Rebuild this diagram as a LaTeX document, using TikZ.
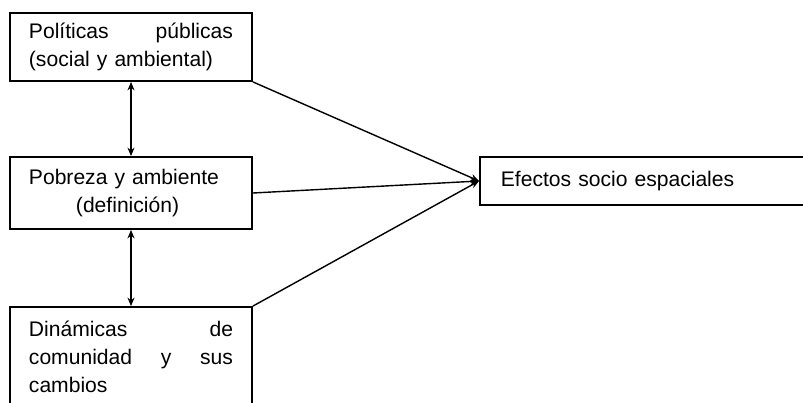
\documentclass[tikz,border=0pt]{standalone}
\usepackage{fontspec}
\setmainfont{Liberation Sans}
\usetikzlibrary{arrows.meta}
\begin{document}
\begin{tikzpicture}[x=0.025cm,y=-0.025cm,
  caja/.style={draw,line width=1.3pt,inner sep=0pt,align=left,font=\fontsize{15}{20}\selectfont},
  flecha/.style={line width=1pt,-{Stealth[length=6pt,width=5pt]}},
  doble/.style={line width=1pt,{Stealth[length=6pt,width=5pt]}-{Stealth[length=6pt,width=5pt]}}]
\useasboundingbox (0,0) rectangle (803,402);
\clip (0,0) rectangle (803,402);
% cajas de la izquierda
\node[caja,minimum width=6.05cm,minimum height=1.7cm,text width=5.1cm] (pp) at (131,47) {Políticas\hfill públicas\\(social y ambiental)};
\node[caja,minimum width=6.05cm,minimum height=1.8cm,text width=5.1cm] (pa) at (131,193) {Pobreza y ambiente\\\hspace*{1.175cm}(definición)};
\node[caja,minimum width=6.05cm,minimum height=2.5cm,text width=5.1cm] (dc) at (131,357) {Dinámicas\hfill de\\comunidad\hfill y\hfill sus\\cambios};
% caja de la derecha
\node[caja,anchor=west,text width=8.25cm,inner xsep=0.525cm,minimum height=1.2cm] (ef) at (479,181) {Efectos socio espaciales};
% flechas
\draw[doble] (pp.south) -- (pa.north);
\draw[doble] (pa.south) -- (dc.north);
\draw[flecha] (pp.south east) -- (ef.west);
\draw[flecha] (pa.east) -- (ef.west);
\draw[flecha] (dc.north east) -- (ef.west);
\end{tikzpicture}
\end{document}
